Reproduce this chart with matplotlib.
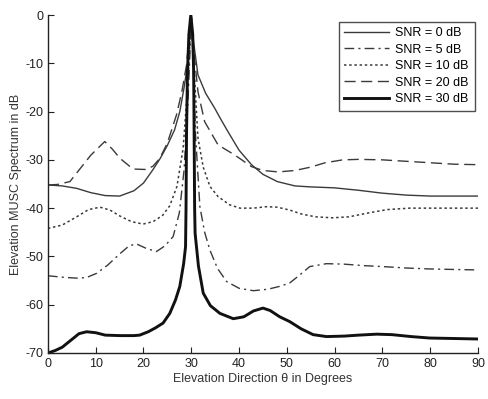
import matplotlib
matplotlib.use("Agg")
import matplotlib.pyplot as plt

plt.rcParams['font.family'] = ['Liberation Sans', 'DejaVu Sans']
plt.rcParams['axes.unicode_minus'] = False

# SNR = 0 dB (thin solid)
x0 = [0, 3, 6, 9, 12, 15, 18, 20, 22, 23.5, 25, 26.5, 27.6, 28.5, 29.2, 29.7, 30,
      30.4, 31.4, 33, 34.9, 36.3, 37.7, 40, 42.6, 45, 48, 51.7, 55, 60, 65, 70, 75, 80, 90]
y0 = [-35.2, -35.4, -35.9, -36.8, -37.4, -37.5, -36.4, -34.8, -32, -29.7, -27, -23.8, -20, -15, -10.4, -4, 0,
      -5, -12.4, -16.2, -19.3, -21.8, -24.2, -28, -31, -33, -34.5, -35.4, -35.6, -35.8, -36.3, -36.9, -37.3, -37.5, -37.5]

# SNR = 5 dB (dash-dot)
x5 = [0, 3, 6, 8, 10.2, 12.5, 15, 17, 18.5, 20.5, 22.7, 24.5, 26.2, 27.5, 28.5, 29.3, 29.8, 30,
      30.3, 30.9, 31.8, 32.8, 33.9, 35.5, 37.4, 40, 43, 46, 48.5, 50.6, 52.5, 54.8, 58.3, 62, 66, 70, 75, 80, 90]
y5 = [-54, -54.3, -54.5, -54.4, -53.5, -51.8, -49.5, -47.8, -47.4, -48.3, -49, -47.8, -45.9, -41, -32, -18, -6, 0,
      -8, -25, -39.7, -45, -48.7, -52.5, -55.2, -56.6, -57.1, -56.8, -56.2, -55.5, -54, -52.1, -51.5, -51.6, -51.9, -52.1, -52.4, -52.6, -52.8]

# SNR = 10 dB (dotted)
x10 = [0, 3, 6, 8.5, 10.9, 13, 15, 17.5, 19.9, 22, 24, 25.5, 27, 28.3, 29.3, 29.8, 30,
       30.3, 30.8, 31.4, 32.5, 33.9, 35.6, 38, 40.2, 43, 45.7, 48, 50.6, 53, 56, 59.6, 63, 67, 71, 75.7, 80, 90]
y10 = [-44.2, -43.5, -41.8, -40.3, -39.8, -40.4, -41.6, -42.8, -43.3, -42.8, -41.5, -39.5, -35.5, -27.6, -14, -4, 0,
       -6, -15, -25.5, -31.5, -35.5, -37.6, -39.3, -40, -40, -39.7, -39.8, -40.4, -41.2, -41.8, -42, -41.8, -41, -40.3, -40, -40, -40]

# SNR = 20 dB (dashed)
x20 = [0, 2, 4.6, 7, 9, 11.9, 13.5, 15.1, 17.8, 20.6, 22, 23.4, 25, 26.9, 28, 29, 29.6, 30,
       30.3, 30.8, 31.4, 32.8, 35.6, 39.1, 42.6, 45, 48.2, 51.7, 55, 58, 61.7, 65, 70, 75, 80, 85, 90]
y20 = [-35.2, -35.1, -34.5, -31.5, -29, -26.2, -27.8, -29.7, -31.9, -32, -31.3, -29.7, -26.5, -20.7, -16, -10.4, -4, 0,
       -5, -10, -15.9, -22.1, -26.9, -29, -31.4, -32.2, -32.5, -32.2, -31.5, -30.6, -30, -29.9, -30, -30.3, -30.6, -30.9, -31]

# SNR = 30 dB (thick solid)
x30 = [0, 1.5, 3, 5, 6.5, 8.1, 10, 12, 15.1, 18, 19.2, 21, 22.5, 24.1, 25.5, 26.7, 27.6, 28.4, 28.8, 28.9, 29, 29.2, 29.5, 29.9,
       30.3, 30.5, 30.6, 30.7, 30.8, 31.5, 32.5, 34, 36, 38.8, 41, 43, 45, 46.5, 48.5, 50.6, 53, 55.5, 58.3, 62, 65, 68.8, 72, 76, 79.9, 85, 90]
y30 = [-70, -69.5, -68.8, -67.2, -66, -65.6, -65.8, -66.3, -66.4, -66.4, -66.3, -65.6, -64.8, -63.8, -61.8, -59, -56.2, -51.5, -48, -40, -25, -12, -4, 0,
       -4, -12, -25, -40, -45.2, -52, -57.6, -60.2, -61.8, -62.9, -62.5, -61.3, -60.7, -61.2, -62.5, -63.5, -65, -66.2, -66.6, -66.5, -66.3, -66.1, -66.2, -66.6, -66.9, -67, -67.1]

labels = ['SNR = 0 dB', 'SNR = 5 dB', 'SNR = 10 dB', 'SNR = 20 dB', 'SNR = 30 dB']
xticks = [0, 10, 20, 30, 40, 50, 60, 70, 80, 90]
yticks = [0, -10, -20, -30, -40, -50, -60, -70]

fig = plt.figure(figsize=(4.89, 3.99), dpi=100)
ax = fig.add_axes([0.098, 0.1153, 0.8795, 0.8471])

gray = '#3a3a3a'
ax.plot(x0, y0, color=gray, lw=1.0, linestyle='-', label=labels[0])
ax.plot(x5, y5, color=gray, lw=1.0, linestyle=(0, (7, 3, 1.5, 3)), label=labels[1])
ax.plot(x10, y10, color=gray, lw=1.1, linestyle=(0, (1.6, 1.8)), label=labels[2])
ax.plot(x20, y20, color=gray, lw=1.0, linestyle=(0, (8, 4)), label=labels[3])
ax.plot(x30, y30, color='#111111', lw=2.1, linestyle='-', label=labels[4])

ax.set_xlim(0, 90)
ax.set_ylim(-70, 0)
ax.set_xticks(xticks)
ax.set_yticks(yticks)
ax.set_xticklabels([str(v) for v in xticks])
ax.set_yticklabels([str(v) for v in yticks])
ax.tick_params(direction='in', length=4, width=0.8, labelsize=9, colors='#222222')
ax.spines['top'].set_visible(False)
ax.spines['right'].set_visible(False)
for s in ['left', 'bottom']:
    ax.spines[s].set_linewidth(1.0)
    ax.spines[s].set_color('#222222')

ax.set_xlabel('Elevation Direction θ in Degrees', fontsize=9, color='#333333', labelpad=2)
ax.set_ylabel('Elevation MUSC Spectrum in dB', fontsize=9, color='#333333', labelpad=2)

leg = ax.legend(loc='upper right', bbox_to_anchor=(0.992, 0.98), fontsize=9, frameon=True,
                fancybox=False, edgecolor='#222222', handlelength=3.6, handletextpad=0.5,
                borderpad=0.45, labelspacing=0.35, borderaxespad=0)
leg.get_frame().set_linewidth(1.0)

fig.savefig('out.png', dpi=100)
